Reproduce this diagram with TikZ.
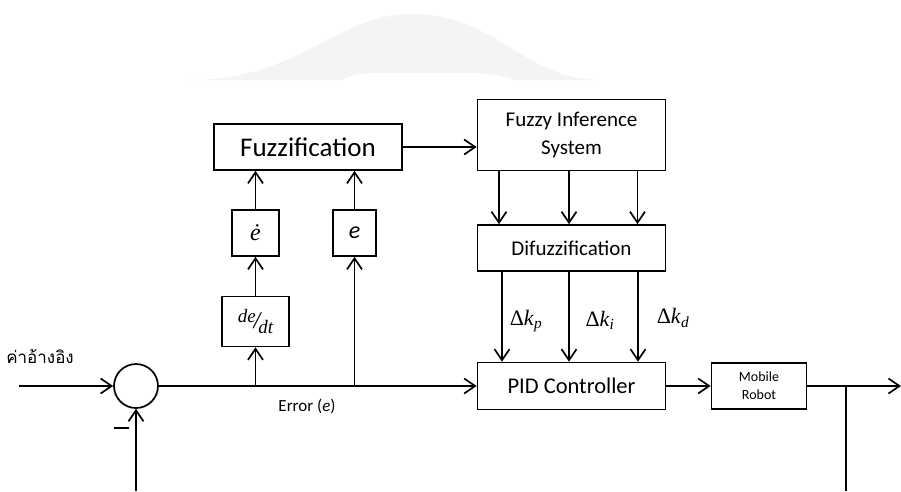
\documentclass[tikz,border=0pt]{standalone}
\usepackage{fontspec}
\setmainfont{Carlito}
\newfontfamily\tms{Liberation Serif}
\newfontfamily\thaifont[Script=Thai]{Loma}
\usetikzlibrary{arrows.meta, positioning}

\begin{document}
\begin{tikzpicture}[x=1pt, y=-1pt, line width=1.7pt, >={Straight Barb[length=11pt,width=15pt]},
        block/.style={draw, inner sep=0pt, align=center, font=\fontsize{21}{28}\selectfont},
        lbl/.style={inner sep=0pt, font=\tms\fontsize{22}{26}\selectfont}]
        \useasboundingbox (0,0) rectangle (901,491);
        % faint shape behind the top
        \fill[gray!9] (190,80) .. controls (300,80) and (335,14) .. (413,14) .. controls (495,14) and (525,80) .. (600,80) -- (517,80) .. controls (490,73) .. (455,73) -- (383,73) .. controls (360,73) .. (340,80) -- cycle;
        \node [block, minimum width=188pt, minimum height=46pt, font=\fontsize{27}{30}\selectfont] (fuzz) at (308,147) {Fuzzification};
        \node [block, minimum width=188pt, minimum height=71pt] (fis) at (571.5,135) {Fuzzy Inference\\System};
        \node [block, minimum width=188pt, minimum height=46pt] (defuzz) at (571.5,248) {Difuzzification};
        \node [block, minimum width=188pt, minimum height=47pt, font=\fontsize{22.5}{28}\selectfont] (pid) at (571.5,386) {PID Controller};
        \node [block, minimum width=95pt, minimum height=46pt, font=\fontsize{14}{18}\selectfont] (robot) at (759,386) {Mobile\\Robot};
        \node [block, minimum width=47pt, minimum height=46pt, font=\tms\fontsize{24}{28}\selectfont] (edot) at (255.5,233) {\textit{ė}};
        \node [block, minimum width=43pt, minimum height=46pt, font=\fontsize{24}{28}\selectfont] (ebox) at (354.5,233) {\textit{e}};
        \node [block, minimum width=67pt, minimum height=50pt, font=\tms\itshape\fontsize{19}{22}\selectfont] (dedt) at (255.5,321.5) {\raisebox{6pt}{de}\kern-2pt\fontsize{24}{28}\selectfont/\kern-2pt\fontsize{19}{22}\selectfont\raisebox{-5pt}{dt}};
        \node [circle, draw, minimum size=44pt, inner sep=0pt] (sum) at (136,386) {};
        \node [inner sep=0pt] (minus) at (121,428) {\rule{15pt}{2pt}};
        \node [inner sep=0pt, font=\thaifont\fontsize{17}{20}\selectfont] (ref) at (40,356) {ค่าอ้างอิง};
        \node [inner sep=0pt, font=\fontsize{17}{20}\selectfont] (err) at (307,406) {Error (\textit{e})};
        \node [lbl] (dkp) at (526,321) {Δ\textit{k}\textsubscript{\textit{p}}};
        \node [lbl] (dki) at (600,320) {Δ\textit{k}\textsubscript{\textit{i}}};
        \node [lbl] (dkd) at (673,318) {Δ\textit{k}\textsubscript{\textit{d}}};
        \coordinate (in) at (19,386);
        \coordinate (fb) at (136,491);
        \coordinate (out) at (901,386);
        \coordinate (tap) at (846,386);
        \coordinate (tapend) at (846,491);
        \coordinate (bd) at (dedt |- sum);
        \coordinate (be) at (ebox |- sum);
        \path[->] (in) edge (sum);
        \path[->] (fb) edge (sum);
        \path[->] (sum) edge (pid);
        \path[->] (bd) edge (dedt);
        \path[->] (dedt) edge (edot);
        \path[->] (edot) edge (edot |- fuzz.south);
        \path[->] (be) edge (ebox);
        \path[->] (ebox) edge (ebox |- fuzz.south);
        \path[->] (fuzz.east) edge (fuzz.east -| fis.west);
        \foreach \dx in {-72.5,-2.5,66}
            \path[->] ([xshift=\dx pt]fis.south) edge ([xshift=\dx pt]fis.south |- defuzz.north);
        \foreach \dx in {-69.5,-2.5,66.5}
            \path[->] ([xshift=\dx pt]defuzz.south) edge ([xshift=\dx pt]defuzz.south |- pid.north);
        \path[->] (pid) edge (robot);
        \path[->] (robot) edge (out);
        \path (tap) edge (tapend);
    \end{tikzpicture}
\end{document}
